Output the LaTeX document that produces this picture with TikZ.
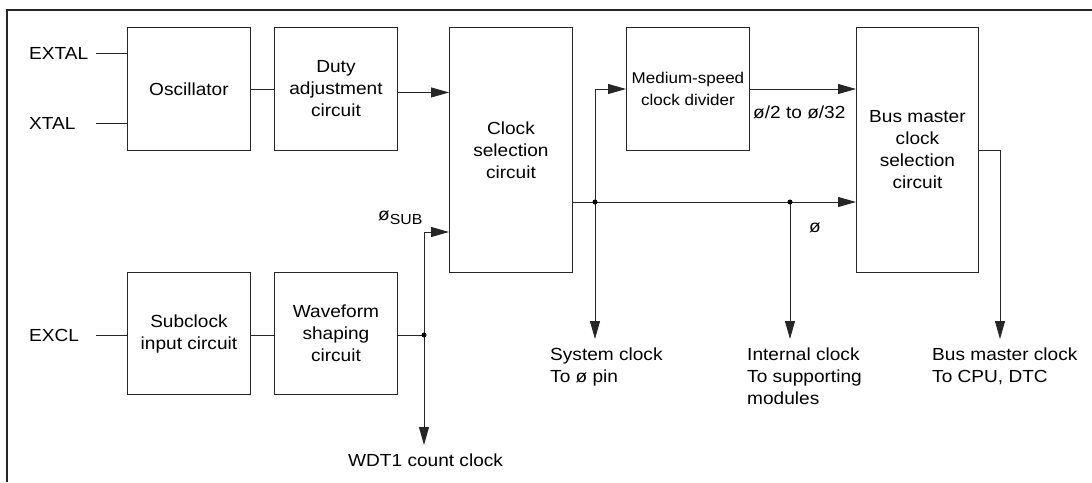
\documentclass[tikz,border=0pt]{standalone}
\usepackage{fontspec}
\setmainfont{Liberation Sans}[FakeStretch=1.09]
\usetikzlibrary{arrows.meta}
\begin{document}
\begin{tikzpicture}[x=1pt,y=-1pt,
  font=\fontsize{17.5}{22}\selectfont,
  line/.style={draw=black!85, line width=0.9pt},
  arr/.style={line, -{Triangle[length=18pt,width=10pt]}},
  blk/.style={draw=black!85, line width=0.9pt, anchor=north west, inner sep=0pt, align=center, minimum width=123pt},
  lbl/.style={inner sep=0pt},
  jdot/.style={circle, fill=black, inner sep=0pt, minimum size=5pt}]
\useasboundingbox (0,0) rectangle (1092,482);
\draw[draw=black!85, line width=1.2pt] (7,482) -- (7,10) -- (1092,10);

% blocks
\node[blk, minimum height=123pt] (osc) at (127,27) {Oscillator};
\node[blk, minimum height=123pt] (duty) at (274,27) {Duty\\adjustment\\circuit};
\node[blk, minimum height=245pt] (clk) at (449,27) {Clock\\selection\\circuit};
\node[blk, minimum height=123pt, font=\fontsize{15.6}{22}\selectfont] (med) at (626,27) {Medium-speed\\clock divider};
\node[blk, minimum width=122pt, minimum height=245pt] (bus) at (856,27) {Bus master\\clock\\selection\\circuit};
\node[blk, minimum height=122pt, text depth=3pt] (sub) at (127,272) {Subclock\\input circuit};
\node[blk, minimum height=122pt] (wave) at (274,272) {Waveform\\shaping\\circuit};

% input labels
\node[lbl, anchor=west] (extal) at (29,53) {EXTAL};
\node[lbl, anchor=west] (xtal) at (29,123) {XTAL};
\node[lbl, anchor=west] (excl) at (29,335) {EXCL};

% coordinates
\coordinate (pe) at (96,53);
\coordinate (px) at (96,123);
\coordinate (pc) at (96,335);
\coordinate (j1) at (595,202);
\coordinate (j2) at (790,202);
\coordinate (m) at (595,89);
\coordinate (js) at (424,335);
\coordinate (sb) at (424,232);
\coordinate (wdt) at (424,445);
\coordinate (sys) at (595,339);
\coordinate (int) at (790,339);
\coordinate (bc) at (1000,150);
\coordinate (bo) at (1000,339);

% connectors
\draw[line] (pe) -- (pe -| osc.west);
\draw[line] (px) -- (px -| osc.west);
\draw[line] (osc.east) -- (duty.west);
\draw[arr] ([yshift=-3.5pt]duty.east) -- ([yshift=-3.5pt]duty.east -| clk.west);
\draw[arr] (clk.east |- j1) -- (bus.west |- j1);
\draw[arr] (j1) -- (m) -- (m -| med.west);
\draw[arr] (med.east |- m) -- (bus.west |- m);
\draw[arr] (j1) -- (sys);
\draw[arr] (j2) -- (int);
\draw[arr] (bus.east |- bc) -- (bc) -- (bo);
\draw[line] (pc) -- (pc -| sub.west);
\draw[line] (sub.east |- pc) -- (wave.west |- pc);
\draw[line] (wave.east |- js) -- (js);
\draw[arr] (js) -- (wdt);
\draw[arr] (js) -- (sb) -- (sb -| clk.west);
\node[jdot] at (j1) {};
\node[jdot] at (j2) {};
\node[jdot] at (js) {};

% signal labels
\node[lbl, anchor=base west] (sublbl) at (378,220) {ø\raisebox{-4pt}{\fontsize{14.5}{14}\selectfont SUB}};
\node[lbl, anchor=base west] (divlbl) at (753,118) {ø/2 to ø/32};
\node[lbl, anchor=base west] (philbl) at (809,232) {ø};

% output labels
\node[lbl, anchor=north west, align=left] (syslbl) at (550,348) {System clock\\To ø pin};
\node[lbl, anchor=north west, align=left] (intlbl) at (747,348) {Internal clock\\To supporting\\modules};
\node[lbl, anchor=north west, align=left] (buslbl) at (932,348) {Bus master clock\\To CPU, DTC};
\node[lbl, anchor=west] (wdtlbl) at (348,460) {WDT1 count clock};
\end{tikzpicture}
\end{document}
